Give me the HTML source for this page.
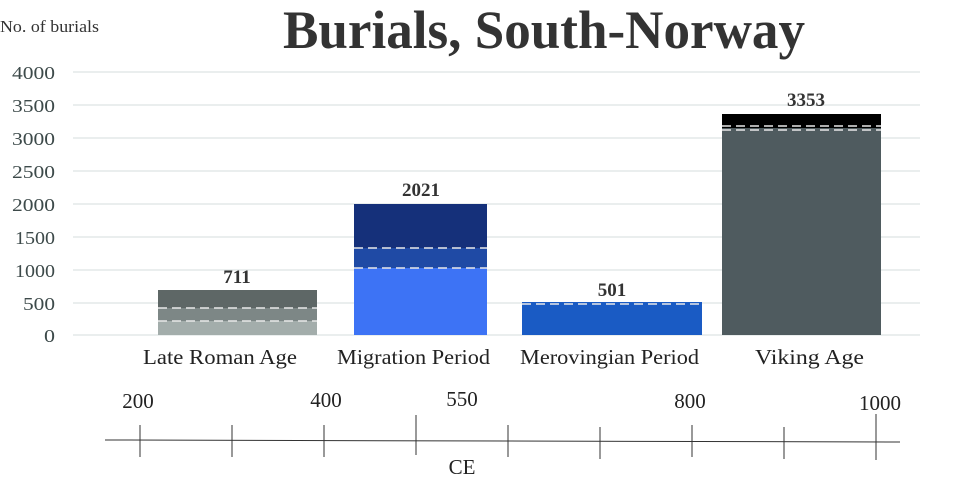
<!DOCTYPE html>
<html><head><meta charset="utf-8"><style>body{margin:0;background:#fff}svg{display:block}</style></head><body>
<svg width="960" height="480" xmlns="http://www.w3.org/2000/svg" font-family="Liberation Serif, serif">
<rect width="960" height="480" fill="#fff"/>
<text x="544" y="48" text-anchor="middle" font-size="54" font-weight="bold" fill="#333" textLength="522" lengthAdjust="spacingAndGlyphs">Burials, South-Norway</text>
<text x="0" y="32" font-size="17" fill="#333" textLength="99" lengthAdjust="spacingAndGlyphs">No. of burials</text>
<g stroke="#dde3e3" stroke-width="1.3">
<line x1="73" x2="920" y1="72" y2="72"/><line x1="73" x2="920" y1="105" y2="105"/><line x1="73" x2="920" y1="138" y2="138"/><line x1="73" x2="920" y1="171" y2="171"/><line x1="73" x2="920" y1="204" y2="204"/><line x1="73" x2="920" y1="237" y2="237"/><line x1="73" x2="920" y1="270" y2="270"/><line x1="73" x2="920" y1="303" y2="303"/><line x1="73" x2="920" y1="335" y2="335"/>
</g>
<g font-size="18" fill="#3d4a4a">
<text x="12" y="79" textLength="43" lengthAdjust="spacingAndGlyphs">4000</text><text x="12" y="112" textLength="43" lengthAdjust="spacingAndGlyphs">3500</text><text x="12" y="145" textLength="43" lengthAdjust="spacingAndGlyphs">3000</text><text x="12" y="178" textLength="43" lengthAdjust="spacingAndGlyphs">2500</text><text x="12" y="211" textLength="43" lengthAdjust="spacingAndGlyphs">2000</text><text x="15" y="244" textLength="40" lengthAdjust="spacingAndGlyphs">1500</text><text x="15" y="277" textLength="40" lengthAdjust="spacingAndGlyphs">1000</text><text x="23" y="310" textLength="32" lengthAdjust="spacingAndGlyphs">500</text><text x="44" y="342" textLength="11" lengthAdjust="spacingAndGlyphs">0</text>
</g>
<rect x="158" y="290" width="159" height="18" fill="#5e6766"/>
<rect x="158" y="308" width="159" height="13" fill="#7d8786"/>
<rect x="158" y="321" width="159" height="14" fill="#a3adab"/>
<rect x="354" y="204" width="133" height="44" fill="#15307a"/>
<rect x="354" y="248" width="133" height="20" fill="#1f4aa5"/>
<rect x="354" y="268" width="133" height="67" fill="#3d73f5"/>
<rect x="522" y="302" width="180" height="33" fill="#1a5bc4"/>
<rect x="722" y="114" width="159" height="14" fill="#000"/>
<rect x="722" y="128" width="159" height="207" fill="#4f5b5f"/>
<g stroke="#e8e8e8" stroke-width="1.5" stroke-dasharray="9,5">
<line x1="158" x2="317" y1="308" y2="308"/><line x1="158" x2="317" y1="321" y2="321"/>
<line x1="354" x2="487" y1="248" y2="248"/><line x1="354" x2="487" y1="268" y2="268"/>
<line x1="522" x2="702" y1="304" y2="304"/>
<line x1="722" x2="881" y1="126" y2="126"/><line x1="722" x2="881" y1="130" y2="130"/>
</g>
<g font-size="19" font-weight="bold" fill="#333" text-anchor="middle">
<text x="237" y="283">711</text><text x="421" y="196">2021</text><text x="612" y="296">501</text><text x="806" y="106">3353</text>
</g>
<g font-size="21" fill="#222">
<text x="143" y="364" textLength="154" lengthAdjust="spacingAndGlyphs">Late Roman Age</text><text x="337" y="364" textLength="153" lengthAdjust="spacingAndGlyphs">Migration Period</text><text x="520" y="364" textLength="179" lengthAdjust="spacingAndGlyphs">Merovingian Period</text><text x="755" y="364" textLength="109" lengthAdjust="spacingAndGlyphs">Viking Age</text>
</g>
<g stroke="#333" stroke-width="1">
<line x1="105" x2="900" y1="440" y2="442"/>
<line x1="140" x2="140" y1="425" y2="457"/><line x1="232" x2="232" y1="425" y2="457"/><line x1="324" x2="324" y1="425" y2="457"/><line x1="416" x2="416" y1="415" y2="455"/><line x1="508" x2="508" y1="425" y2="457"/><line x1="600" x2="600" y1="427" y2="459"/><line x1="692" x2="692" y1="425" y2="457"/><line x1="784" x2="784" y1="427" y2="459"/><line x1="876" x2="876" y1="414" y2="460"/>
</g>
<g font-size="21" fill="#222" text-anchor="middle">
<text x="138" y="408">200</text><text x="326" y="407">400</text><text x="462" y="406">550</text><text x="690" y="408">800</text><text x="880" y="410">1000</text><text x="462" y="474">CE</text>
</g>
</svg>
</body></html>
